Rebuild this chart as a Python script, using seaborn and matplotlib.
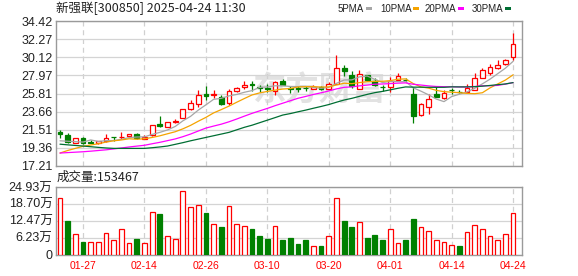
import numpy as np
import pandas as pd
import matplotlib
matplotlib.use('Agg')
import matplotlib.pyplot as plt
import seaborn as sns
from matplotlib.patches import Rectangle

# ---------------- data ----------------
dates = ['01-22', '01-23', '01-24', '01-27',
         '02-05', '02-06', '02-07', '02-10', '02-11', '02-12', '02-13', '02-14',
         '02-17', '02-18', '02-19', '02-20', '02-21', '02-24', '02-25', '02-26',
         '02-27', '02-28',
         '03-03', '03-04', '03-05', '03-06', '03-07', '03-10', '03-11', '03-12',
         '03-13', '03-14', '03-17', '03-18', '03-19', '03-20', '03-21', '03-24',
         '03-25', '03-26', '03-27', '03-28', '03-31',
         '04-01', '04-02', '04-03', '04-07', '04-08', '04-09', '04-10', '04-11',
         '04-14', '04-15', '04-16', '04-17', '04-18', '04-21', '04-22', '04-23', '04-24']

opens = [21.20, 20.90, 19.98, 20.50, 20.00, 19.90, 20.15, 20.65, 20.60, 20.78,
         21.00, 20.45, 20.90, 22.20, 21.85, 22.45, 22.95, 23.95, 24.60, 25.75,
         25.60, 25.45, 24.65, 26.10, 26.55, 26.95, 26.55, 26.45, 26.15, 27.30,
         26.45, 26.45, 26.50, 26.35, 26.60, 26.30, 26.95, 28.85, 28.05, 26.40,
         28.00, 27.35, 26.60, 26.55, 27.45, 27.45, 25.75, 23.30, 24.20, 25.70,
         25.25, 26.25, 26.00, 26.05, 26.25, 27.65, 28.30, 28.80, 29.30, 30.15]
highs = [21.50, 21.15, 20.52, 20.65, 20.25, 20.20, 21.00, 20.70, 21.20, 21.00,
         21.15, 20.85, 22.10, 23.15, 22.45, 22.80, 24.00, 25.05, 26.25, 26.70,
         26.25, 25.60, 26.40, 26.60, 27.30, 27.30, 26.85, 26.90, 27.30, 27.50,
         26.75, 26.75, 26.75, 26.80, 26.75, 27.20, 30.35, 29.25, 28.50, 28.60,
         28.05, 27.70, 26.80, 27.75, 28.25, 27.60, 26.60, 24.65, 25.70, 26.65,
         26.20, 26.45, 26.20, 26.90, 28.20, 28.80, 29.30, 29.80, 29.95, 33.05]
lows = [20.50, 19.90, 19.95, 19.80, 19.90, 19.85, 20.10, 20.20, 20.40, 20.70,
        20.45, 20.40, 20.80, 21.80, 21.80, 22.30, 22.90, 23.90, 24.20, 25.05,
        25.25, 24.50, 24.50, 25.95, 26.30, 26.15, 26.00, 26.00, 25.65, 26.80,
        25.85, 26.00, 26.15, 26.30, 26.20, 26.20, 26.90, 27.90, 26.50, 26.30,
        27.30, 26.75, 26.15, 26.00, 27.40, 27.25, 22.35, 23.20, 23.40, 25.40,
        25.20, 25.80, 25.85, 26.00, 26.20, 27.60, 28.00, 28.75, 29.15, 29.85]
closes = [21.05, 20.05, 20.50, 19.95, 19.97, 20.15, 20.50, 20.60, 20.70, 20.95,
          20.50, 20.60, 22.05, 21.90, 22.40, 22.55, 23.95, 24.70, 25.60, 25.55,
          25.80, 24.55, 26.15, 26.45, 26.85, 26.80, 26.45, 26.40, 27.15, 26.85,
          26.40, 26.40, 26.45, 26.60, 26.30, 26.95, 28.80, 28.45, 26.65, 28.10,
          27.45, 26.80, 26.55, 27.35, 27.95, 27.42, 23.20, 24.55, 25.15, 25.45,
          25.90, 26.20, 25.95, 26.50, 27.60, 28.55, 29.00, 29.20, 29.75, 31.65]

# volume in 万 (10k shares) and whether the volume bar is "up" (red)
volume_wan = [20.9, 12.4, 7.4, 4.5, 4.8, 4.8, 7.8, 5.2, 9.3, 4.4,
              5.6, 4.4, 15.7, 15.0, 7.0, 5.9, 23.6, 17.6, 18.3, 15.3,
              11.2, 10.2, 17.9, 11.2, 10.4, 9.4, 7.0, 5.9, 10.4, 5.3,
              6.0, 3.8, 5.3, 3.0, 3.0, 6.8, 20.9, 12.3, 10.2, 11.9,
              6.0, 7.1, 5.3, 9.3, 4.3, 5.3, 13.2, 10.0, 8.5, 5.5,
              4.8, 3.6, 3.0, 8.2, 10.8, 9.3, 6.7, 5.5, 7.4, 15.35]
volume_up = [1, 0, 1, 0, 1, 1, 1, 1, 1, 1,
             0, 1, 1, 0, 1, 1, 1, 1, 1, 0,
             1, 0, 1, 1, 1, 0, 0, 0, 1, 0,
             0, 0, 0, 1, 0, 1, 1, 0, 0, 1,
             0, 0, 0, 1, 1, 0, 0, 1, 1, 1,
             1, 1, 0, 1, 1, 1, 1, 1, 1, 1]

# moving-average values at the start of the window (history before the window)
ma5_head = [20.20, 20.15, 20.10, 20.05]
ma10_head = [18.75, 19.05, 19.30, 19.55, 19.70, 19.85, 20.05, 20.20, 20.30]
ma20_head = [18.75, 18.80, 18.85, 18.90, 18.97, 19.05, 19.13, 19.24, 19.35, 19.47,
             19.57, 19.67, 19.85, 20.02, 20.22, 20.42, 20.69, 21.00, 21.36]
ma30_head = [19.80, 19.72, 19.65, 19.58, 19.50, 19.42, 19.35, 19.30, 19.30, 19.30,
             19.30, 19.30, 19.38, 19.47, 19.58, 19.78, 19.98, 20.20, 20.40, 20.60,
             20.80, 21.00, 21.20, 21.50, 21.80, 22.05, 22.35, 22.65, 22.95]

price_ticks = [17.21, 19.36, 21.51, 23.66, 25.81, 27.97, 30.12, 32.27, 34.42]
price_tick_labels = ['17.21', '19.36', '21.51', '23.66', '25.81', '27.97', '30.12', '32.27', '34.42']
vol_ticks = [0, 6.23, 12.47, 18.70, 24.93]
vol_tick_labels = ['0', '6.23万', '12.47万', '18.70万', '24.93万']
tick_dates = ['01-27', '02-14', '02-26', '03-10', '03-20', '04-01', '04-14', '04-24']

title = '新强联[300850] 2025-04-24 11:30'
current_volume = 153467
ma_names = ['5PMA', '10PMA', '20PMA', '30PMA']
ma_windows = [5, 10, 20, 30]
ma_colors = ['#A6A6A6', '#F5A300', '#FF00FF', '#006E33']

RED = '#FF0000'
GREEN = '#008000'

# ---------------- build frames ----------------
n = len(closes)
close_s = pd.Series(closes, dtype=float)
heads = [ma5_head, ma10_head, ma20_head, ma30_head]
ma_rows = []
for name, w, head in zip(ma_names, ma_windows, heads):
    vals = close_s.rolling(w).mean().to_numpy()
    vals[:len(head)] = head
    for i, v in enumerate(vals):
        ma_rows.append({'idx': i, 'value': v, 'ma': name})
ma_df = pd.DataFrame(ma_rows)

# ---------------- figure ----------------
sns.set_style('white')
plt.rcParams['font.family'] = ['Liberation Sans', 'Noto Sans CJK SC', 'DejaVu Sans']

W, H = 578, 276
fig = plt.figure(figsize=(W / 100, H / 100), dpi=100)


def fx(px):
    return px / W


def fy(py):
    return 1 - py / H


L, R = 56, 522
ax = fig.add_axes([fx(L), fy(166), fx(R) - fx(L), fy(21) - fy(166)])
axv = fig.add_axes([fx(L), fy(254.5), fx(R) - fx(L), fy(187) - fy(254.5)])

xlim = (-0.52, 60.16)
tick_idx = [dates.index(d) for d in tick_dates]

for a in (ax, axv):
    a.set_xlim(*xlim)
    a.set_xticks(tick_idx)
    a.grid(axis='y', color='#D4D4D4', lw=0.9, zorder=0)
    a.grid(axis='x', color='#D0D0D0', lw=0.9, ls=(0, (4, 3)), zorder=0)
    for sp in a.spines.values():
        sp.set_color('#9A9A9A')
        sp.set_linewidth(1.0)
    a.set_axisbelow(True)

# watermark
ax.text(0.565, 0.52, '东方财富', transform=ax.transAxes, ha='center', va='center',
        fontsize=24, fontweight='bold', color='#E2E2E2', family=['Noto Sans CJK SC'],
        zorder=0.5)

# candles
bw = 0.62
for i in range(n):
    o, h, l, c = opens[i], highs[i], lows[i], closes[i]
    up = c >= o
    col = RED if up else GREEN
    ax.vlines(i, l, h, color=col, lw=0.9, zorder=2)
    bottom = min(o, c)
    height = max(abs(c - o), 0.04)
    ax.bar(i, height, bottom=bottom, width=bw, facecolor='white' if up else col,
           edgecolor=col, lw=0.9, zorder=3)

# moving averages
sns.lineplot(data=ma_df, x='idx', y='value', hue='ma', hue_order=ma_names,
             palette=dict(zip(ma_names, ma_colors)), lw=0.9, legend=False,
             estimator=None, sort=False, ax=ax, zorder=4)

ax.set_ylim(price_ticks[0], price_ticks[-1])
ax.set_yticks(price_ticks)
ax.set_yticklabels(price_tick_labels)
ax.set_xticklabels([])
ax.set_xlabel('')
ax.set_ylabel('')
ax.tick_params(axis='both', length=0, labelsize=9, colors='#222222', pad=2.5)

# volume
for i in range(n):
    up = volume_up[i] == 1
    col = RED if up else GREEN
    axv.bar(i, volume_wan[i], width=bw, facecolor='white' if up else col,
            edgecolor=col, lw=0.9, zorder=3)
axv.set_ylim(0, vol_ticks[-1])
axv.set_yticks(vol_ticks)
axv.set_yticklabels(vol_tick_labels)
axv.set_xticklabels(tick_dates)
axv.tick_params(axis='y', length=0, labelsize=9, colors='#222222', pad=2.5)
axv.tick_params(axis='x', length=0, labelsize=7.5, colors=RED, pad=5)

# title / labels
fig.text(fx(56), fy(8.5), title, ha='left', va='center', fontsize=9,
         color='#222222', family=['Noto Sans CJK SC', 'DejaVu Sans'])
fig.text(fx(57), fy(177), '成交量:' + str(current_volume), ha='left', va='center',
         fontsize=9, color='#222222', family=['Noto Sans CJK SC', 'DejaVu Sans'])

# legend
leg_text_x = [338, 380, 425, 472]
leg_box_x = [366, 413, 458, 505]
for name, col, tx, bx in zip(ma_names, ma_colors, leg_text_x, leg_box_x):
    fig.text(fx(tx), fy(8.5), name, ha='left', va='center', fontsize=7, color='#222222')
    fig.add_artist(Rectangle((fx(bx), fy(10)), 6 / W, 3 / H, transform=fig.transFigure,
                             facecolor=col, edgecolor='none'))

fig.savefig('out.png', dpi=100)
